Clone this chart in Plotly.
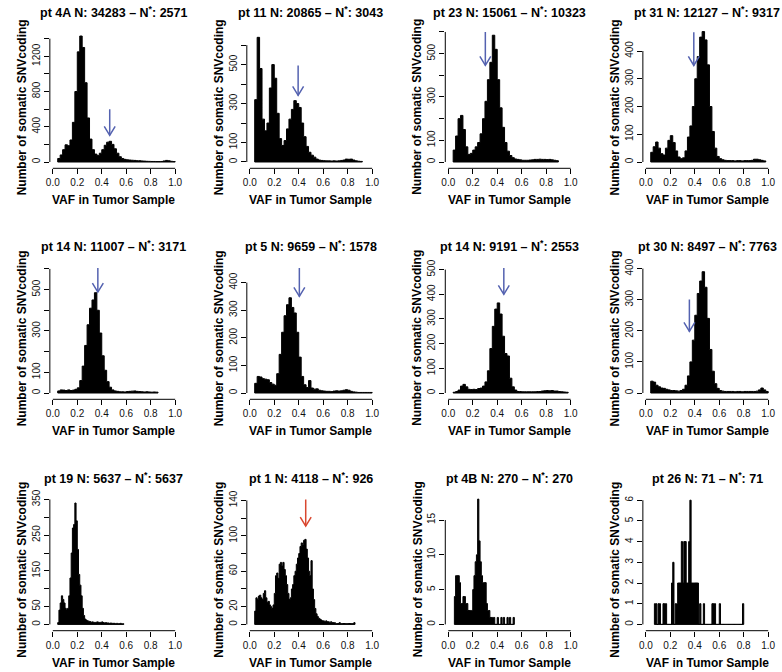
import plotly.graph_objects as go

# ---------------- data ----------------
pt_labels = ["4A", "11", "23", "31", "14", "5", "14", "30", "19", "1", "4B", "26"]
n_total = [34283, 20865, 15061, 12127, 11007, 9659, 9191, 8497, 5637, 4118, 270, 71]
n_star = [2571, 3043, 10323, 9317, 3171, 1578, 2553, 7763, 5637, 926, 270, 71]

# histogram bins: left edge of first bin, bin width, counts per bin
bin_start = [0.04, 0.04, 0.04, 0.04, 0.04, 0.04, 0.04, 0.04, 0.04, 0.04, 0.05, 0.07]
bin_width = [0.02, 0.02, 0.02, 0.02, 0.02, 0.02, 0.02, 0.02, 0.01, 0.01, 0.01, 0.01]

counts_pt4A = [40, 80, 140, 195, 185, 250, 450, 800, 1250, 1430, 1300, 900, 500, 260, 140,
               90, 75, 100, 140, 190, 225, 235, 200, 150, 100, 60, 40, 30, 25, 22, 20, 18,
               15, 15, 12, 10, 8, 7, 6, 6, 5, 5, 6, 12, 18, 14, 8, 5]
counts_pt11 = [320, 640, 480, 220, 160, 200, 380, 500, 430, 250, 120, 85, 110, 170, 220,
               270, 315, 300, 280, 200, 130, 80, 50, 35, 25, 15, 10, 8, 7, 6, 6, 5, 6, 5,
               6, 8, 10, 15, 14, 15, 10, 6, 4, 3]
counts_pt23 = [55, 120, 200, 215, 150, 70, 35, 40, 55, 70, 90, 130, 200, 280, 380, 460,
               585, 520, 380, 250, 160, 90, 50, 30, 20, 14, 12, 10, 8, 8, 8, 9, 10, 12, 12,
               13, 12, 12, 11, 12, 10, 8, 6]
counts_pt31 = [35, 55, 72, 50, 30, 25, 50, 78, 95, 70, 40, 18, 12, 15, 40, 90, 130, 200,
               300, 380, 450, 470, 440, 350, 200, 110, 50, 20, 12, 8, 6, 5, 5, 5, 4, 5, 5,
               4, 5, 5, 5, 6, 10, 10, 8, 6, 4]
counts_pt14a = [10, 15, 14, 12, 15, 12, 14, 18, 25, 60, 130, 230, 330, 410, 450, 485, 400,
                290, 180, 110, 55, 28, 15, 10, 8, 6, 6, 5, 7, 8, 9, 10, 8, 7, 6, 5, 6, 5,
                4, 5, 4]
counts_pt5 = [35, 60, 58, 52, 50, 48, 38, 32, 28, 70, 140, 220, 280, 320, 345, 310, 290,
              220, 130, 60, 30, 20, 45, 18, 14, 15, 10, 8, 7, 6, 6, 5, 7, 8, 7, 8, 10, 12,
              10, 6, 4, 3, 2, 2, 2, 2, 2, 2]
counts_pt14b = [3, 6, 12, 28, 35, 25, 15, 14, 15, 14, 18, 20, 28, 45, 90, 180, 270, 340,
                365, 320, 230, 160, 150, 60, 25, 12, 6, 6, 5, 5, 5, 5, 5, 5, 6, 6, 8, 9,
                10, 9, 10, 8, 8, 6, 5, 4, 3]
counts_pt30 = [38, 35, 25, 20, 16, 15, 12, 10, 8, 8, 7, 6, 8, 12, 25, 55, 100, 170, 250,
               320, 360, 390, 340, 240, 140, 70, 30, 15, 8, 6, 5, 5, 5, 5, 4, 5, 5, 4, 5,
               5, 5, 5, 5, 6, 10, 16, 10, 5]
counts_pt19 = [5, 40, 60, 80, 70, 60, 45, 40, 45, 80, 130, 200, 270, 280, 340, 290, 210,
               140, 110, 80, 45, 25, 15, 12, 10, 9, 8, 6, 7, 6, 5, 6, 7, 6, 5, 6, 7, 5, 4,
               5, 4, 4, 3, 4, 3, 3, 3, 2, 3, 2, 2, 3, 2, 2]
counts_pt1 = [15, 30, 28, 32, 33, 30, 28, 35, 38, 30, 25, 26, 22, 20, 18, 22, 35, 55, 58,
              52, 68, 70, 66, 70, 62, 55, 45, 35, 28, 30, 40, 45, 55, 60, 68, 75, 80, 88,
              92, 90, 95, 96, 85, 75, 60, 55, 72, 40, 28, 18, 12, 9, 7, 6, 5, 4, 4, 3, 4,
              3, 3, 2, 3, 2, 2, 2, 1, 1, 1, 2, 1, 1, 1, 1, 1, 1, 1, 1, 1, 1, 1, 2]
counts_pt4B = [4, 7, 7, 7, 6, 3, 3, 4, 4, 3, 3, 2, 2, 2, 2, 5, 7, 9, 10, 18, 12, 9, 7, 6,
               6, 6, 3, 2, 2, 1, 1, 1, 1, 0, 0, 1, 0, 0, 1, 0, 1, 0, 0, 1, 0, 1, 0, 0, 1]
counts_pt26 = [1, 1, 0, 1, 1, 0, 0, 1, 1, 1,
               0, 0, 0, 0, 2, 3, 0, 1, 1, 2,
               2, 2, 4, 2, 4, 4, 2, 2, 4, 6,
               2, 2, 2, 2, 2, 2, 0, 1, 0, 0,
               1, 0, 0, 0, 0, 0, 0, 1, 1, 1,
               0, 0, 0, 1, 0, 0, 0, 0, 0, 0,
               0, 0, 0, 0, 0, 0, 0, 0, 0, 0,
               0, 0, 1]

counts = [counts_pt4A, counts_pt11, counts_pt23, counts_pt31, counts_pt14a, counts_pt5,
          counts_pt14b, counts_pt30, counts_pt19, counts_pt1, counts_pt4B, counts_pt26]

# y axis ticks: step between tick marks, last tick, ticks that carry a label
y_tick_step = [200, 100, 100, 100, 100, 100, 100, 100, 50, 20, 5, 1]
y_tick_max = [1400, 600, 600, 400, 600, 400, 500, 400, 350, 140, 15, 6]
y_tick_labeled = [[0, 400, 800, 1200], [0, 100, 300, 500], [0, 100, 300, 500],
                  [0, 100, 200, 300, 400], [0, 100, 300, 500], [0, 100, 200, 300, 400],
                  [0, 100, 200, 300, 400, 500], [0, 100, 200, 300, 400],
                  [0, 50, 150, 250, 350], [0, 20, 60, 100, 140], [0, 5, 10, 15],
                  [0, 1, 2, 3, 4, 5, 6]]
x_ticks = [0.0, 0.2, 0.4, 0.6, 0.8, 1.0]
x_tick_text = ["0.0", "0.2", "0.4", "0.6", "0.8", "1.0"]

# arrows (x position, tail value, tip value)
arrow_x = [0.465, 0.395, 0.303, 0.392, 0.368, 0.405, 0.454, 0.356, None, 0.457, None, None]
arrow_tail = [600, 496, 600, 468, 604, 453, 506, 301, None, 141, None, None]
arrow_tip = [303, 342, 446, 348, 488, 350, 400, 198, None, 111, None, None]
arrow_is_red = [False] * 9 + [True, False, False]

# ---------------- layout geometry (pixels) ----------------
W, H = 782, 672
COL_X0 = [49.2, 247.7, 447.7, 646.8]     # pixel of x = 0
XW = 123.3                                # pixels per unit x
YAX_OFF = 3.0                             # y-axis line left of x=0
ROW_AXIS = [168.3, 399.3, 630.7]          # x-axis line pixel
ZERO_GAP = 6.3                            # y=0 above x-axis line
ROW_TOP = [24, 256, 488]
ROW_TITLE = [11.7, 246, 477.7]
Y_SCALE = [0.0881, 0.1948, 0.2167, 0.2775, 0.2068, 0.276, 0.2468, 0.311,
           0.357, 0.8857, 6.96, 20.7]     # pixels per count

BLUE = "#5462b0"
RED = "#d9472f"
FONT = "Liberation Sans, Arial, Helvetica, sans-serif"

fig = go.Figure()
layout = dict(width=W, height=H, margin=dict(l=0, r=0, t=0, b=0),
              paper_bgcolor="white", plot_bgcolor="white", showlegend=False,
              font=dict(family=FONT, color="black"))
shapes = []
annotations = []


def fx(px):
    return px / W


def fy(py):
    return 1 - py / H


for i in range(12):
    r, c = divmod(i, 4)
    sfx = "" if i == 0 else str(i + 1)
    xa, ya = "x" + sfx, "y" + sfx
    s = Y_SCALE[i]
    x0 = COL_X0[c]
    yax_px = x0 - YAX_OFF
    zero_px = ROW_AXIS[r] - ZERO_GAP
    step = y_tick_step[i]
    y_top = min((zero_px - ROW_TOP[r]) / s, y_tick_max[i] + 0.98 * step)
    top_px = zero_px - y_top * s

    # histogram as a filled step outline (one polygon, no seams between bins)
    w = bin_width[i]
    n = len(counts[i])
    edges = [bin_start[i] + k * w for k in range(n + 1)]
    ys = list(counts[i]) + [counts[i][-1]]
    fig.add_trace(go.Scatter(x=edges, y=ys, mode="lines",
                             line=dict(color="black", width=1, shape="hv", simplify=False),
                             fill="tozeroy", fillcolor="black", xaxis=xa, yaxis=ya,
                             hoverinfo="skip"))
    # baseline and outer edges of histogram
    fig.add_trace(go.Scatter(x=[edges[0], edges[0], None, edges[0], edges[-1], None,
                                edges[-1], edges[-1]],
                             y=[0, counts[i][0], None, 0, 0, None, 0, counts[i][-1]],
                             mode="lines", xaxis=xa, yaxis=ya,
                             line=dict(color="black", width=1), hoverinfo="skip"))

    # arrow
    if arrow_x[i] is not None:
        ax_ = arrow_x[i]
        dx = 5.5 / XW
        dy = 9.0 / s
        col = RED if arrow_is_red[i] else BLUE
        fig.add_trace(go.Scatter(
            x=[ax_, ax_, None, ax_ - dx, ax_, ax_ + dx],
            y=[arrow_tail[i], arrow_tip[i], None, arrow_tip[i] + dy, arrow_tip[i],
               arrow_tip[i] + dy],
            mode="lines", xaxis=xa, yaxis=ya, line=dict(color=col, width=1.5),
            hoverinfo="skip"))

    # axes
    layout["xaxis" + sfx] = dict(
        domain=[fx(yax_px), fx(x0 + 1.04 * XW)], range=[-YAX_OFF / XW, 1.04],
        anchor=ya, tickvals=x_ticks, ticktext=x_tick_text, ticks="outside", ticklen=5,
        tickwidth=1, tickcolor="black", showline=False, showgrid=False, zeroline=False,
        tickfont=dict(size=10, family=FONT, color="#111"), fixedrange=True)
    layout["yaxis" + sfx] = dict(
        domain=[fy(ROW_AXIS[r]), fy(top_px)],
        range=[-ZERO_GAP / s, y_top],
        anchor=xa, tickvals=y_tick_labeled[i],
        ticktext=[str(v) for v in y_tick_labeled[i]], ticks="outside", ticklen=5,
        tickwidth=1, tickcolor="black", tickangle=-90, showline=False, showgrid=False,
        zeroline=False, tickfont=dict(size=10, family=FONT, color="#111"),
        minor=dict(tick0=0, dtick=step, ticks="outside", ticklen=5, tickwidth=1,
                   tickcolor="black", showgrid=False),
        fixedrange=True)

    # axis lines (R style: span first to last tick)
    shapes.append(dict(type="line", xref="paper", yref="paper",
                       x0=fx(x0), x1=fx(x0 + XW), y0=fy(ROW_AXIS[r]), y1=fy(ROW_AXIS[r]),
                       line=dict(color="black", width=1)))
    shapes.append(dict(type="line", xref="paper", yref="paper",
                       x0=fx(yax_px), x1=fx(yax_px), y0=fy(zero_px),
                       y1=fy(zero_px - y_tick_max[i] * s),
                       line=dict(color="black", width=1)))

    # titles
    title = "<b>pt %s N: %d \u2013 N<sup>*</sup>: %d</b>" % (pt_labels[i], n_total[i], n_star[i])
    annotations.append(dict(text=title, xref="paper", yref="paper",
                            x=fx(x0 + 0.5 * XW), y=fy(ROW_TITLE[r]), xanchor="center",
                            yanchor="middle", showarrow=False,
                            font=dict(size=12.5, family=FONT, color="black")))
    annotations.append(dict(text="<b>VAF in Tumor Sample</b>", xref="paper", yref="paper",
                            x=fx(x0 + 0.5 * XW), y=fy(ROW_AXIS[r] + 32), xanchor="center",
                            yanchor="middle", showarrow=False,
                            font=dict(size=12, family=FONT, color="black")))
    annotations.append(dict(text="<b>Number of somatic SNVcoding</b>", xref="paper",
                            yref="paper", x=fx(yax_px - 28), y=fy(ROW_AXIS[r] - 61),
                            xanchor="center", yanchor="middle", textangle=-90,
                            showarrow=False,
                            font=dict(size=12, family=FONT, color="black")))

layout["shapes"] = shapes
layout["annotations"] = annotations
fig.update_layout(**layout)
fig.write_html("out.html", config={"displayModeBar": False},
               post_script="document.body.style.margin='0';document.body.style.padding='0';")
